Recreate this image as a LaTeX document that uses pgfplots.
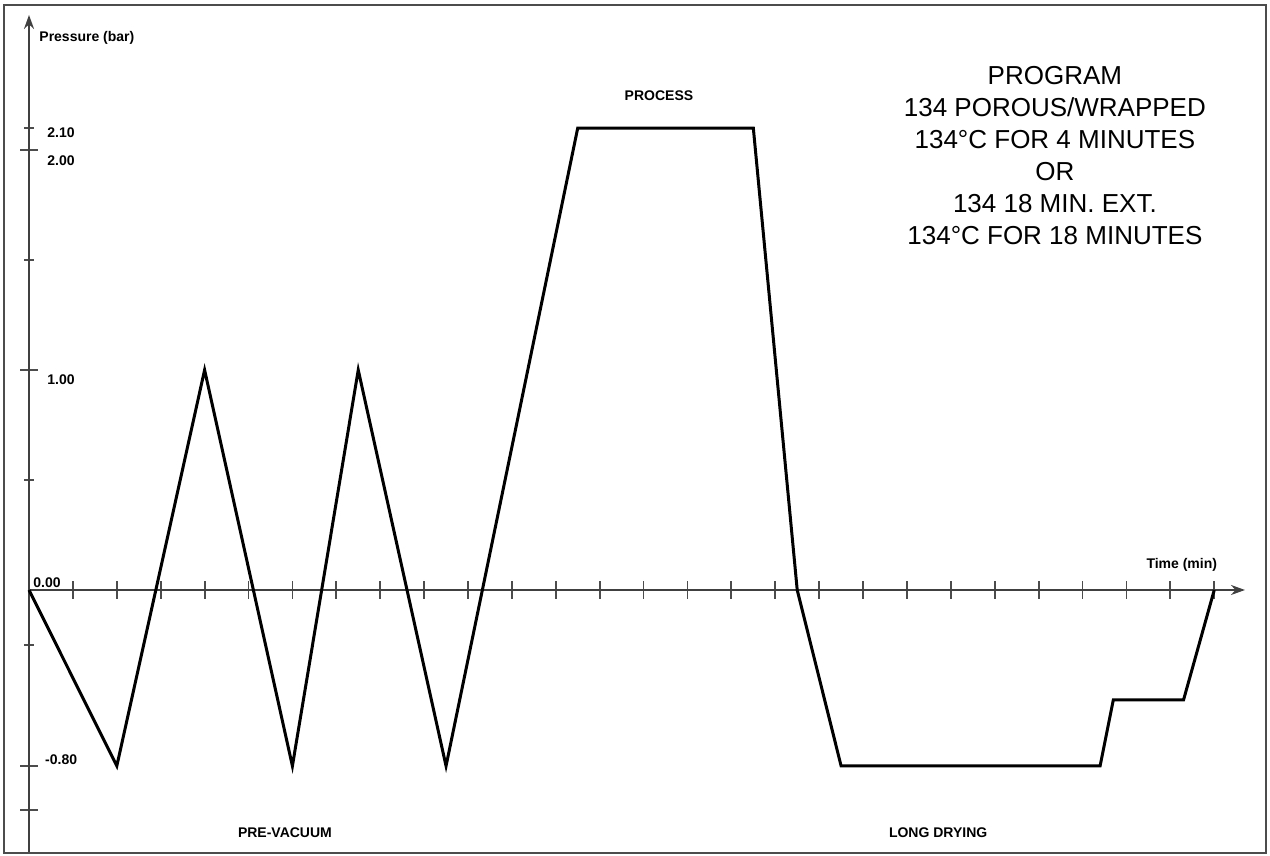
\documentclass[border=0pt]{standalone}
\usepackage{fontspec}
\setmainfont{Liberation Sans}
\usepackage{pgfplots}
\pgfplotsset{compat=1.18}
\usetikzlibrary{arrows.meta}
\pgfplotstableread{
t p
0 0
2 -0.8
4 1
6 -0.8
7.5 1
9.5 -0.8
12.5 2.1
16.5 2.1
17.5 0
18.5 -0.8
24.4 -0.8
24.7 -0.5
26.3 -0.5
27 0
}\cycle
\begin{document}
\begin{tikzpicture}
\begin{axis}[
  x=21.95pt, y=110pt,
  xmin=0, xmax=27.7, ymin=-1.195, ymax=2.614,
  enlargelimits=false,
  axis lines=middle,
  clip=false,
  axis line style={black!75, line width=1pt, -{Stealth[length=7pt,width=5pt]}},
  xtick={1,...,27}, xticklabels={},
  ytick={-1,-0.8,1,2}, yticklabels={},
  minor ytick={-0.25,0.5,1.5,2.1},
  tick align=center,
  major tick length=9pt,
  minor tick length=5pt,
  every tick/.style={black!70, line width=0.9pt},
  every minor tick/.style={black!70, line width=0.9pt},
]
\addplot[black, line width=1.5pt, line join=miter, mark=none] table[x=t,y=p]{\cycle};

\coordinate (BL) at (axis cs:-0.661,-1.209);
\coordinate (TR) at (axis cs:28.27,2.682);
\draw[black!70, line width=1pt] (axis cs:-0.569,2.659) rectangle (axis cs:28.18,-1.195);

\begin{scope}[every node/.style={font=\bfseries\fontsize{7}{8}\selectfont, inner sep=0pt}]
\node[anchor=west] at (axis cs:0.228,2.511) {Pressure (bar)};
\node[anchor=west] at (axis cs:0.41,2.077) {2.10};
\node[anchor=west] at (axis cs:0.41,1.95) {2.00};
\node[anchor=west] at (axis cs:0.41,0.955) {1.00};
\node[anchor=base west] at (axis cs:0.09,0.012) {0.00};
\node[anchor=west] at (axis cs:0.36,-0.773) {-0.80};
\node at (axis cs:26.26,0.114) {Time (min)};
\node at (axis cs:14.35,2.245) {PROCESS};
\node at (axis cs:5.83,-1.105) {PRE-VACUUM};
\node at (axis cs:20.71,-1.105) {LONG DRYING};
\end{scope}
\node[align=center, font=\fontsize{13}{16}\selectfont, inner sep=0pt] at (axis cs:23.37,1.977)
  {PROGRAM\\134 POROUS/WRAPPED\\134°C FOR 4 MINUTES\\OR\\134 18 MIN. EXT.\\134°C FOR 18 MINUTES};
\end{axis}
\pgfresetboundingbox
\useasboundingbox (BL) rectangle (TR);
\end{tikzpicture}
\end{document}
